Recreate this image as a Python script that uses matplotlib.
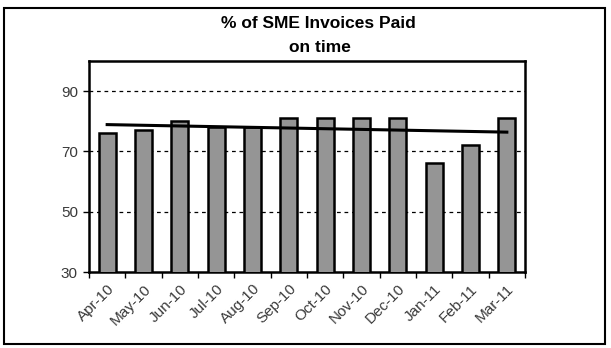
import matplotlib.pyplot as plt
from matplotlib.patches import Rectangle
import numpy as np

plt.rcParams['font.family'] = ['Liberation Sans', 'DejaVu Sans']

months = ['Apr-10', 'May-10', 'Jun-10', 'Jul-10', 'Aug-10', 'Sep-10',
          'Oct-10', 'Nov-10', 'Dec-10', 'Jan-11', 'Feb-11', 'Mar-11']
paid_on_time = [76, 77, 80, 78, 78, 81, 81, 81, 81, 66, 72, 81]

# linear trend, first and last month
trend_ends = [78.9, 76.4]
y_ticks = [30, 50, 70, 90]

W, H = 611, 348
fig = plt.figure(figsize=(W / 100, H / 100), dpi=100)

# outer chart border
fig.patches.append(Rectangle((4 / W, 1 - 344 / H), 601 / W, 336 / H,
                             transform=fig.transFigure, fill=False,
                             edgecolor='black', linewidth=1.5))

ax = fig.add_axes([89 / W, 1 - 272 / H, (525 - 89) / W, (272 - 61) / H])

x = np.arange(len(months))
ax.bar(x, paid_on_time, width=0.47, bottom=0,
       color='#959595', edgecolor='black', linewidth=1.8, zorder=3)
ax.plot([x[0], x[-1]], trend_ends, color='black', linewidth=2.2, zorder=4)

ax.set_ylim(30, 100)
ax.set_xlim(-0.5, len(months) - 0.5)
ax.set_yticks(y_ticks)
ax.set_yticklabels([str(v) for v in y_ticks], fontsize=11, color='#3a3a3a')
for v in y_ticks[1:]:
    ax.axhline(v, color='black', linestyle=(0, (3, 3)), linewidth=0.9, zorder=1)

ax.set_xticks(x)
ax.set_xticklabels(months, rotation=45, ha='right', rotation_mode='anchor',
                   fontsize=11, color='#3a3a3a')
ax.set_xticks(np.arange(len(months) + 1) - 0.5, minor=True)
ax.tick_params(axis='x', which='major', length=0, pad=7)
ax.tick_params(axis='x', which='minor', length=4, width=1, direction='out')
ax.tick_params(axis='y', length=4, width=1, direction='out', pad=4)

for s in ax.spines.values():
    s.set_linewidth(1.8)

fig.text(318 / W, 1 - 23 / H, '% of SME Invoices Paid', ha='center', va='center',
         fontsize=12.5, fontweight='bold')
fig.text(320 / W, 1 - 48 / H, 'on time', ha='center', va='center',
         fontsize=12.5, fontweight='bold')

fig.savefig('out.png', dpi=100)
